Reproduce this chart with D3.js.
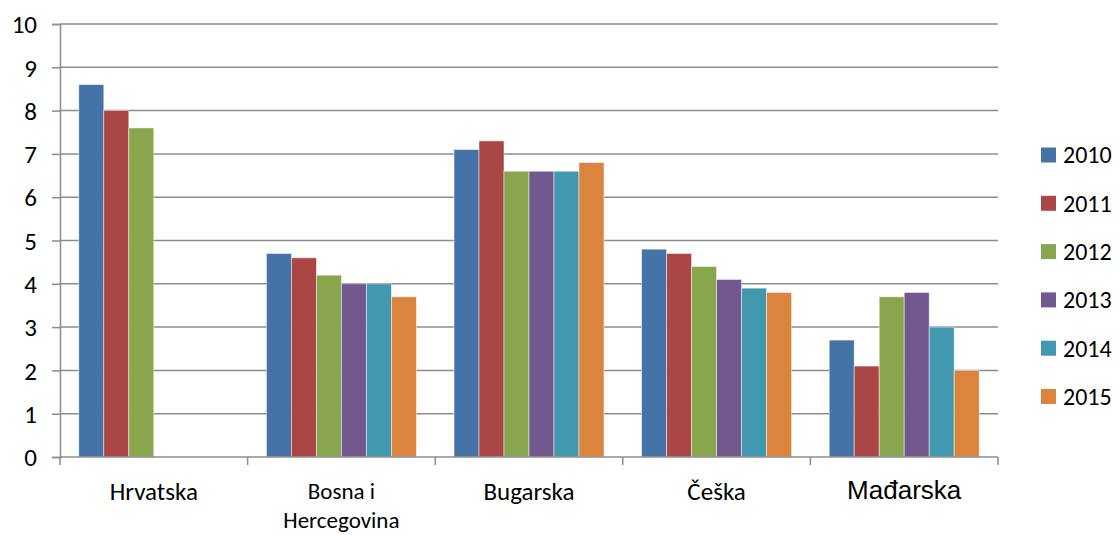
<!DOCTYPE html>
<html>
<head>
<meta charset="utf-8">
<script src="https://cdn.jsdelivr.net/npm/d3@7"></script>
<style>
  body { margin: 0; background: #fff; }
  svg text { font-family: Carlito, "Open Sans", "Noto Sans", sans-serif; fill: #000; }
</style>
</head>
<body>
<svg id="chart" width="1119" height="535"></svg>
<script>
// data
var categories = ["Hrvatska", "Bosna i Hercegovina", "Bugarska", "Češka", "Mađarska"];
var years = ["2010", "2011", "2012", "2013", "2014", "2015"];
var colors = ["#4572A7", "#AA4643", "#89A54E", "#71588F", "#4198AF", "#DB843D"];
var v2010 = [8.6, 4.7, 7.1, 4.8, 2.7];
var v2011 = [8.0, 4.6, 7.3, 4.7, 2.1];
var v2012 = [7.6, 4.2, 6.6, 4.4, 3.7];
var v2013 = [null, 4.0, 6.6, 4.1, 3.8];
var v2014 = [null, 4.0, 6.6, 3.9, 3.0];
var v2015 = [null, 3.7, 6.8, 3.8, 2.0];
var yTicks = [0, 1, 2, 3, 4, 5, 6, 7, 8, 9, 10];

var series = [v2010, v2011, v2012, v2013, v2014, v2015];

var svg = d3.select("#chart");
var pLeft = 60, pRight = 998, pTop = 24, pBottom = 457;

var x = d3.scaleBand().domain(categories).range([pLeft, pRight]).paddingInner(0).paddingOuter(0);
var inner = d3.scaleBand().domain(years).range([18.8, x.bandwidth() - 18.8]).padding(0);
var y = d3.scaleLinear().domain([0, 10]).range([pBottom, pTop]);

var gridColor = "#8c8c8c";

// gridlines
svg.append("g").selectAll("line").data(yTicks.filter(function(d){ return d > 0; })).enter()
  .append("line")
  .attr("x1", pLeft).attr("x2", pRight)
  .attr("y1", function(d){ return y(d); }).attr("y2", function(d){ return y(d); })
  .attr("stroke", gridColor).attr("stroke-width", 1.5);

// y axis
var yAxis = svg.append("g").attr("transform", "translate(" + pLeft + ",0)")
  .call(d3.axisLeft(y).tickValues(yTicks).tickSize(8).tickPadding(15).tickFormat(d3.format("d")));
yAxis.select(".domain").attr("stroke", gridColor).attr("stroke-width", 1.5);
yAxis.selectAll(".tick line").attr("stroke", gridColor).attr("stroke-width", 1.5);
yAxis.selectAll("text").style("font-size", "25px").style("font-family", null).attr("dy", "0.35em");

// bars
series.forEach(function(vals, si) {
  svg.append("g").selectAll("rect").data(vals.map(function(v, i){ return {c: categories[i], v: v}; }).filter(function(d){ return d.v != null; }))
    .enter().append("rect")
    .attr("x", function(d){ return x(d.c) + inner(years[si]); })
    .attr("width", inner.bandwidth())
    .attr("y", function(d){ return y(d.v); })
    .attr("height", function(d){ return pBottom - y(d.v); })
    .attr("fill", colors[si])
    .attr("stroke", "#fff").attr("stroke-opacity", 0.6).attr("stroke-width", 0.8);
});

// x axis
var xAxis = svg.append("g").attr("transform", "translate(0," + pBottom + ")");
xAxis.append("line").attr("x1", pLeft).attr("x2", pRight).attr("stroke", gridColor).attr("stroke-width", 1.5);
var bounds = categories.map(function(c){ return x(c); }).concat([pRight]);
xAxis.selectAll("line.tk").data(bounds).enter().append("line").attr("class", "tk")
  .attr("x1", function(d){ return d; }).attr("x2", function(d){ return d; })
  .attr("y1", 0).attr("y2", 8).attr("stroke", gridColor).attr("stroke-width", 1.5);

// category labels
categories.forEach(function(c) {
  var cx = x(c) + x.bandwidth() / 2;
  if (c === "Bosna i Hercegovina") {
    svg.append("text").attr("x", cx).attr("y", 499).attr("text-anchor", "middle").style("font-size", "23px").text("Bosna i");
    svg.append("text").attr("x", cx).attr("y", 528).attr("text-anchor", "middle").style("font-size", "23px").text("Hercegovina");
  } else if (c === "Mađarska") {
    svg.append("text").attr("x", cx).attr("y", 499).attr("text-anchor", "middle")
      .style("font-family", "'Liberation Sans', Arial, sans-serif").style("font-size", "26px").text(c);
  } else {
    svg.append("text").attr("x", cx).attr("y", 500).attr("text-anchor", "middle").style("font-size", "25px").text(c);
  }
});

// legend
var lg = svg.append("g").attr("transform", "translate(1041,0)");
years.forEach(function(yr, i) {
  var cy = 155 + i * 48.3;
  lg.append("rect").attr("x", 0).attr("y", cy - 7.5).attr("width", 15).attr("height", 15).attr("fill", colors[i]);
  lg.append("text").attr("x", 22).attr("y", cy).attr("dy", "0.35em").style("font-size", "24px").text(yr);
});
</script>
</body>
</html>
